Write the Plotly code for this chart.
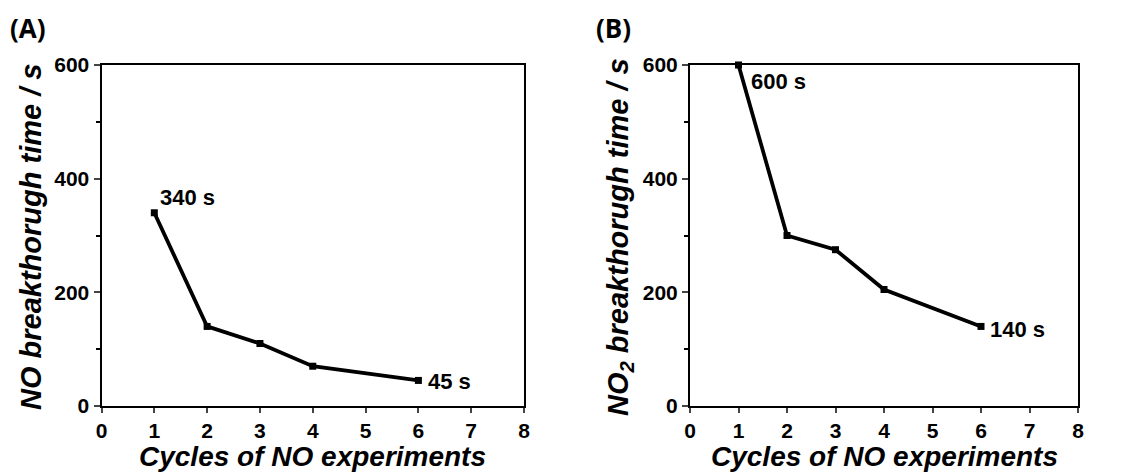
import plotly.graph_objects as go

cycles_a = [1, 2, 3, 4, 6]
no_time = [340, 140, 110, 70, 45]
cycles_b = [1, 2, 3, 4, 6]
no2_time = [600, 300, 275, 205, 140]
x_ticks = [0, 1, 2, 3, 4, 5, 6, 7, 8]
y_ticks = [0, 200, 400, 600]

# page body has an 8px margin, so the figure is shrunk and positions offset by 8px
OFF = 8
W, H = 1131 - OFF, 473 - OFF
def fx(px): return (px - OFF) / W
def fy(py): return 1 - (py - OFF) / H

FONT = "Liberation Sans"
fig = go.Figure()
line = dict(color="black", width=3.8)
marker = dict(symbol="square", size=7, color="black")
fig.add_trace(go.Scatter(x=cycles_a, y=no_time, mode="lines+markers", line=line, marker=marker,
                         xaxis="x", yaxis="y", showlegend=False, cliponaxis=False))
fig.add_trace(go.Scatter(x=cycles_b, y=no2_time, mode="lines+markers", line=line, marker=marker,
                         xaxis="x2", yaxis="y2", showlegend=False, cliponaxis=False))

def xax(domain, anchor):
    return dict(domain=domain, anchor=anchor, range=[0, 8], tickvals=x_ticks, ticks="outside",
                ticklen=5, tickwidth=2, showline=True, linewidth=2, linecolor="black", mirror=True,
                showgrid=False, zeroline=False, automargin=False,
                tickfont=dict(family=FONT, size=21, color="black", weight="bold"))

def yax(domain, anchor):
    return dict(domain=domain, anchor=anchor, range=[0, 600], tickvals=y_ticks, ticks="outside",
                ticklen=6, tickwidth=2, showline=True, linewidth=2, linecolor="black", mirror=True,
                showgrid=False, zeroline=False, automargin=False,
                minor=dict(tickvals=[100, 300, 500], ticks="outside", ticklen=4, tickwidth=2, tickcolor="black"),
                tickfont=dict(family=FONT, size=21, color="black", weight="bold"))

ydom = [fy(406), fy(65)]
fig.update_layout(
    width=W, height=H, margin=dict(l=0, r=0, t=0, b=0, autoexpand=False),
    paper_bgcolor="white", plot_bgcolor="white",
    xaxis=xax([fx(101.5), fx(524)], "y"),
    yaxis=yax(ydom, "x"),
    xaxis2=xax([fx(690), fx(1078)], "y2"),
    yaxis2=yax(ydom, "x2"),
)

xt_font = dict(family=FONT, size=28, color="black", weight="bold", style="italic")
yt_font = dict(family=FONT, size=29, color="black", weight="bold", style="italic")
ann = []
ann.append(dict(x=fx(312), y=fy(456), xref="paper", yref="paper", text="Cycles of NO experiments",
                showarrow=False, font=xt_font, xanchor="center", yanchor="middle"))
ann.append(dict(x=fx(884), y=fy(456), xref="paper", yref="paper", text="Cycles of NO experiments",
                showarrow=False, font=xt_font, xanchor="center", yanchor="middle"))
ann.append(dict(x=fx(31), y=fy(237), xref="paper", yref="paper", text="NO breakthorugh time / s",
                showarrow=False, font=yt_font, textangle=-90, xanchor="center", yanchor="middle"))
ann.append(dict(x=fx(620), y=fy(237), xref="paper", yref="paper", text="NO<sub>2</sub> breakthorugh time / s",
                showarrow=False, font=yt_font, textangle=-90, xanchor="center", yanchor="middle"))
label_font = dict(family="Open Sans", size=26, color="black", weight="bold")
ann.append(dict(x=fx(8), y=fy(28), xref="paper", yref="paper", text="(A)", showarrow=False,
                font=label_font, xanchor="left", yanchor="middle"))
ann.append(dict(x=fx(594), y=fy(28), xref="paper", yref="paper", text="(B)", showarrow=False,
                font=label_font, xanchor="left", yanchor="middle"))
val_font = dict(family=FONT, size=22, color="black", weight="bold")
ann.append(dict(x=cycles_a[0], y=no_time[0], xref="x", yref="y", text=f"{no_time[0]} s", showarrow=False,
                font=val_font, xanchor="left", yanchor="middle", xshift=4, yshift=15))
ann.append(dict(x=cycles_a[-1], y=no_time[-1], xref="x", yref="y", text=f"{no_time[-1]} s", showarrow=False,
                font=val_font, xanchor="left", yanchor="middle", xshift=8, yshift=-1))
ann.append(dict(x=cycles_b[0], y=no2_time[0], xref="x2", yref="y2", text=f"{no2_time[0]} s", showarrow=False,
                font=val_font, xanchor="left", yanchor="middle", xshift=10, yshift=-16))
ann.append(dict(x=cycles_b[-1], y=no2_time[-1], xref="x2", yref="y2", text=f"{no2_time[-1]} s", showarrow=False,
                font=val_font, xanchor="left", yanchor="middle", xshift=7, yshift=-3))
fig.update_layout(annotations=ann)
fig.write_html("out.html")
